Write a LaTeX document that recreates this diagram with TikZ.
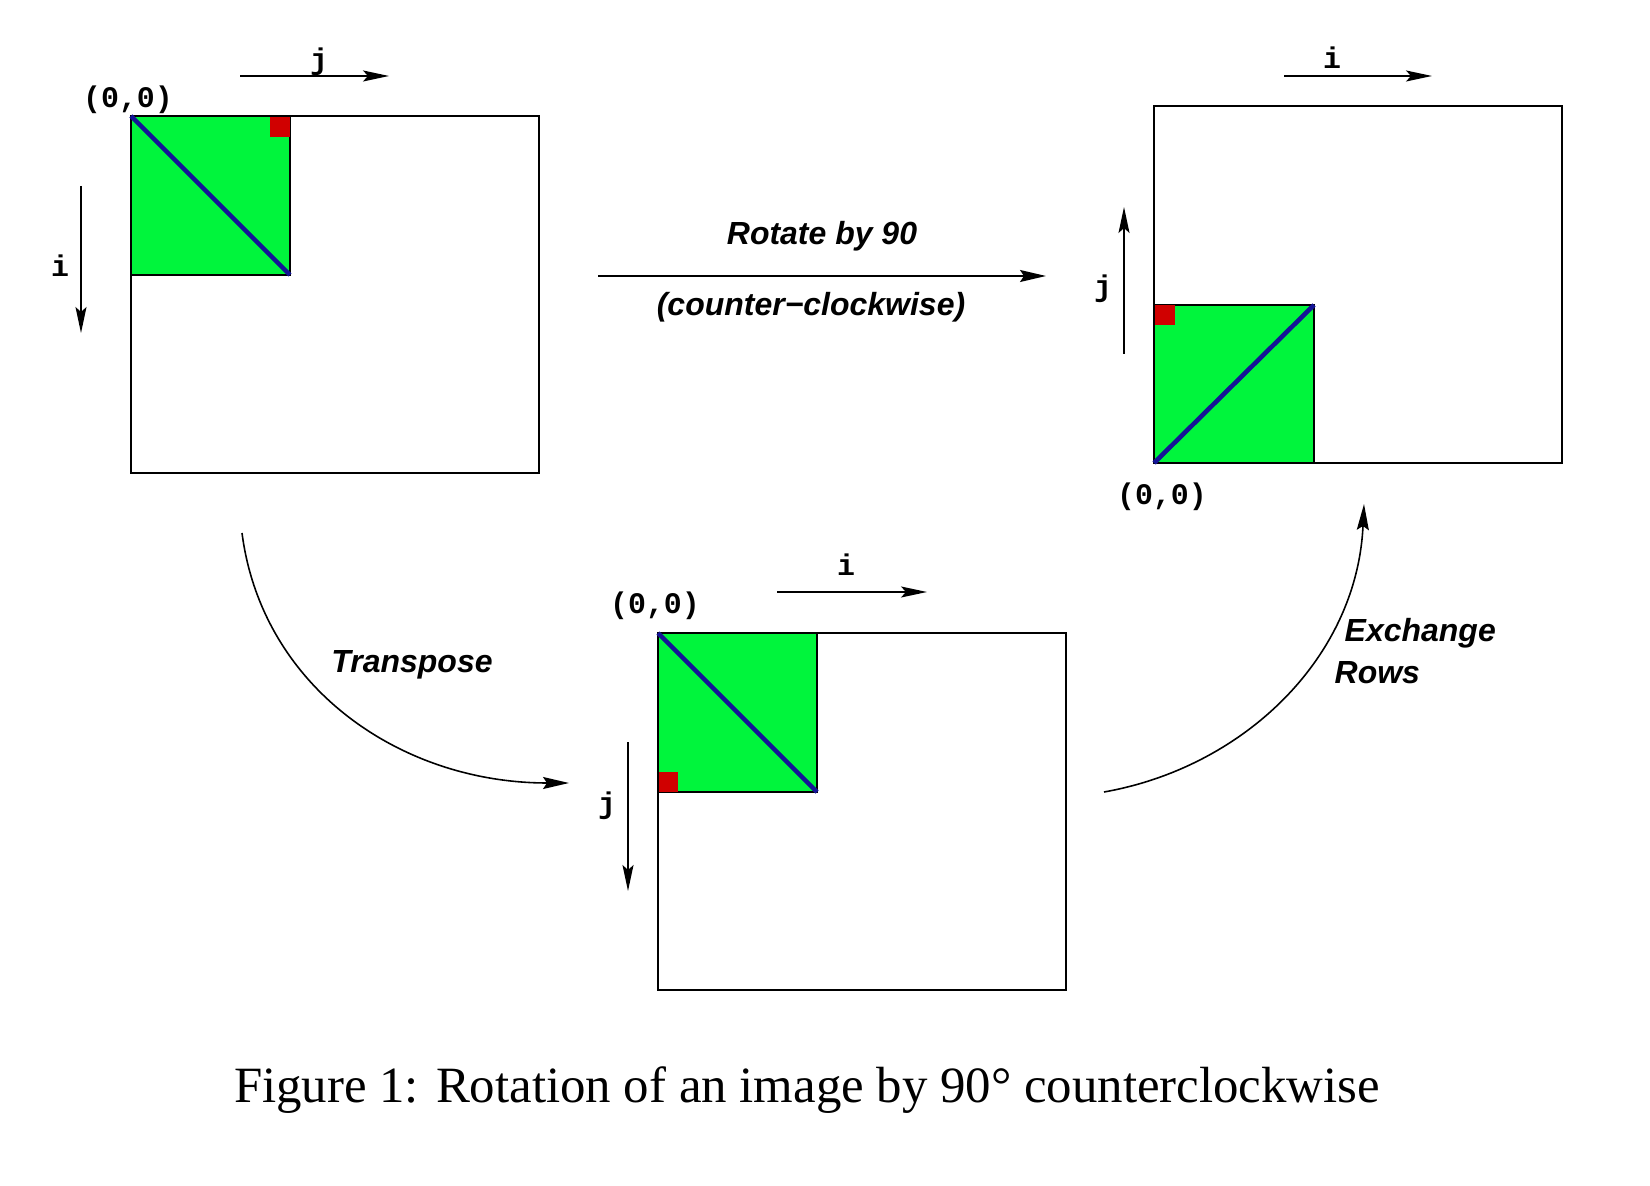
\documentclass[tikz,border=0pt]{standalone}
\usepackage{fontspec}
\setmainfont{Liberation Serif}
\setsansfont{Liberation Sans}
\setmonofont{Liberation Mono}
\usetikzlibrary{arrows.meta}

\definecolor{imggreen}{RGB}{0,245,60}
\definecolor{imgred}{RGB}{208,0,0}
\definecolor{imgblue}{RGB}{20,20,150}

\tikzset{
  frame/.style={draw=black,line width=0.45pt},
  patch/.style={fill=imggreen,draw=black,line width=0.45pt},
  corner/.style={fill=imgred},
  diag/.style={draw=imgblue,line width=1.3pt},
  axis/.style={line width=0.45pt,-{Stealth[length=2.6mm,width=1.1mm,inset=0.5mm]}},
  move/.style={line width=0.45pt,-{Stealth[length=2.6mm,width=1.2mm,inset=0.4mm]}},
  idx/.style={font=\ttfamily\bfseries\fontsize{8.5}{10}\selectfont,inner sep=0pt},
  opname/.style={font=\sffamily\bfseries\itshape\fontsize{9.1}{10}\selectfont,inner sep=0pt}
}

\begin{document}
\begin{tikzpicture}[x=0.1mm,y=-0.1mm]
  \useasboundingbox (0,0) rectangle (1650,1186);

  % original image
  \path[patch] (131,116) rectangle (290,275);
  \path[corner] (270,116) rectangle (290,137);
  \path[frame] (131,116) rectangle (539,473);
  \draw[diag] (131,116) -- (290,275);
  \node[idx] (orig00) at (128,100) {(0,0)};
  \node[idx] (origj) at (319,62) {j};
  \node[idx] (origi) at (60,266) {i};
  \coordinate (origjs) at (240,76);
  \coordinate (origje) at (389,76);
  \coordinate (origis) at (81,186);
  \coordinate (origie) at (81,333);
  \draw[axis] (origjs) -- (origje);
  \draw[axis] (origis) -- (origie);

  % rotated image
  \path[patch] (1154,305) rectangle (1314,463);
  \path[corner] (1154,305) rectangle (1175,325);
  \path[frame] (1154,106) rectangle (1562,463);
  \draw[diag] (1154,463) -- (1314,305);
  \node[idx] (rot00) at (1162,497) {(0,0)};
  \node[idx] (roti) at (1332,58) {i};
  \node[idx] (rotj) at (1103,289) {j};
  \coordinate (rotis) at (1284,76);
  \coordinate (rotie) at (1432,76);
  \coordinate (rotjs) at (1124,354);
  \coordinate (rotje) at (1124,207);
  \draw[axis] (rotis) -- (rotie);
  \draw[axis] (rotjs) -- (rotje);

  % transposed image
  \path[patch] (658,633) rectangle (817,792);
  \path[corner] (658,772) rectangle (678,792);
  \path[frame] (658,633) rectangle (1066,990);
  \draw[diag] (658,633) -- (817,792);
  \node[idx] (tr00) at (655,606) {(0,0)};
  \node[idx] (tri) at (846,565) {i};
  \node[idx] (trj) at (607,806) {j};
  \coordinate (tris) at (777,592);
  \coordinate (trie) at (927,592);
  \coordinate (trjs) at (628,742);
  \coordinate (trje) at (628,891);
  \draw[axis] (tris) -- (trie);
  \draw[axis] (trjs) -- (trje);

  % steps
  \coordinate (rots) at (598,276);
  \coordinate (rote) at (1046,276);
  \draw[move] (rots) -- (rote);
  \node[opname] (rotlbl) at (822,236) {Rotate by 90};
  \node[opname] (rotsub) at (811,307) {(counter−clockwise)};

  \coordinate (trs) at (242,533);
  \coordinate (tre) at (569,783);
  \draw[move] (trs) .. controls (262,687) and (400,783) .. (tre);
  \node[opname] (trlbl) at (412,665) {Transpose};

  \coordinate (exs) at (1104,792);
  \coordinate (exe) at (1364,504);
  \draw[move] (exs) .. controls (1245,767) and (1357,657) .. (exe);
  \node[opname,anchor=west] (exlbl) at (1344,633) {Exchange};
  \node[opname,anchor=west] (exrows) at (1334,673) {Rows};

  \node[font=\fontsize{14.47}{17}\selectfont,inner sep=0pt] (cap) at (807,1090)
    {Figure 1: Rotation of an image by 90° counterclockwise};
\end{tikzpicture}
\end{document}
